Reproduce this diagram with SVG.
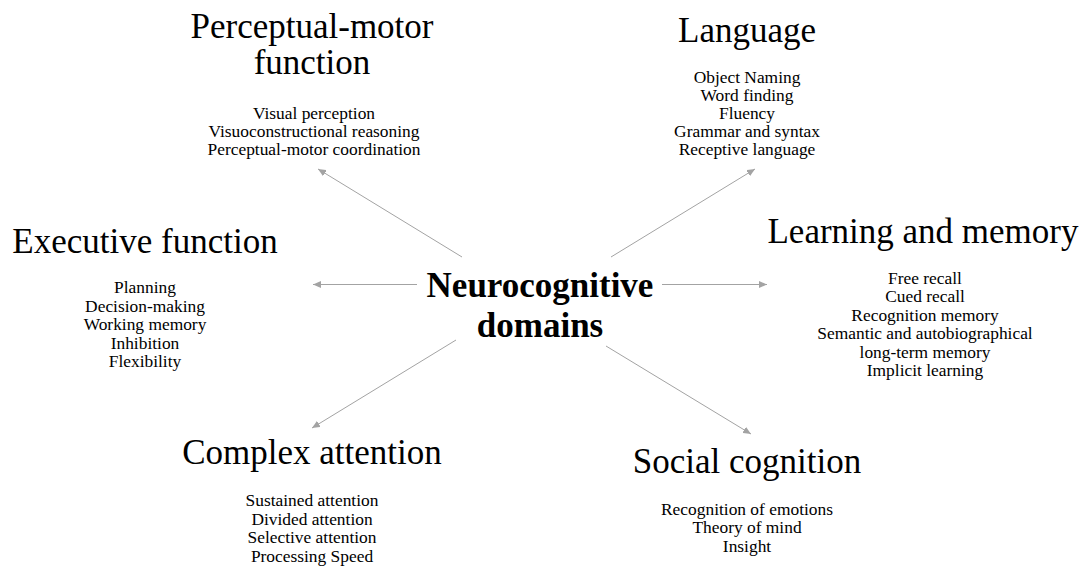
<svg xmlns="http://www.w3.org/2000/svg" width="1083" height="568" viewBox="0 0 1083 568">
<style>
text{font-family:"Liberation Serif","Times New Roman",serif;fill:#000;text-anchor:middle}
.t{font-size:35px}
.i{font-size:17.4px}
.c{font-size:35px;font-weight:bold}
.a{stroke:#a3a3a3;stroke-width:1;fill:none;marker-end:url(#ah)}
</style>
<defs>
<marker id="ah" markerUnits="userSpaceOnUse" markerWidth="9" markerHeight="7" refX="8" refY="3.5" orient="auto">
<path d="M0,0 L8,3.5 L0,7 z" fill="#a3a3a3"/>
</marker>
</defs>
<rect width="1083" height="568" fill="#fff"/>
<g id="connectors">
<line class="a" x1="462" y1="257" x2="318" y2="169"/>
<line class="a" x1="417" y1="284.5" x2="313" y2="284.5"/>
<line class="a" x1="611" y1="257" x2="755" y2="169"/>
<line class="a" x1="662" y1="284.5" x2="767" y2="284.5"/>
<line class="a" x1="456" y1="340" x2="312" y2="428"/>
<line class="a" x1="606" y1="346" x2="751" y2="434"/>
</g>
<g id="center">
<text class="c" x="540" y="297">Neurocognitive</text>
<text class="c" x="540" y="337">domains</text>
</g>
<g id="perceptual-motor">
<text class="t" x="312" y="38">Perceptual-motor</text>
<text class="t" x="312" y="74">function</text>
<text class="i" x="314" y="119">Visual perception</text>
<text class="i" x="314" y="137">Visuoconstructional reasoning</text>
<text class="i" x="314" y="155">Perceptual-motor coordination</text>
</g>
<g id="language">
<text class="t" x="747" y="42">Language</text>
<text class="i" x="747" y="83">Object Naming</text>
<text class="i" x="747" y="101">Word finding</text>
<text class="i" x="747" y="119">Fluency</text>
<text class="i" x="747" y="137">Grammar and syntax</text>
<text class="i" x="747" y="155">Receptive language</text>
</g>
<g id="executive">
<text class="t" x="145" y="253">Executive function</text>
<text class="i" x="145" y="293">Planning</text>
<text class="i" x="145" y="312">Decision-making</text>
<text class="i" x="145" y="330">Working memory</text>
<text class="i" x="145" y="349">Inhibition</text>
<text class="i" x="145" y="367">Flexibility</text>
</g>
<g id="learning">
<text class="t" x="923" y="243">Learning and memory</text>
<text class="i" x="925" y="284">Free recall</text>
<text class="i" x="925" y="302">Cued recall</text>
<text class="i" x="925" y="321">Recognition memory</text>
<text class="i" x="925" y="339">Semantic and autobiographical</text>
<text class="i" x="925" y="358">long-term memory</text>
<text class="i" x="925" y="376">Implicit learning</text>
</g>
<g id="complex-attention">
<text class="t" x="312" y="464">Complex attention</text>
<text class="i" x="312" y="506">Sustained attention</text>
<text class="i" x="312" y="525">Divided attention</text>
<text class="i" x="312" y="543">Selective attention</text>
<text class="i" x="312" y="562">Processing Speed</text>
</g>
<g id="social-cognition">
<text class="t" x="747" y="473">Social cognition</text>
<text class="i" x="747" y="515">Recognition of emotions</text>
<text class="i" x="747" y="533">Theory of mind</text>
<text class="i" x="747" y="552">Insight</text>
</g>
</svg>
